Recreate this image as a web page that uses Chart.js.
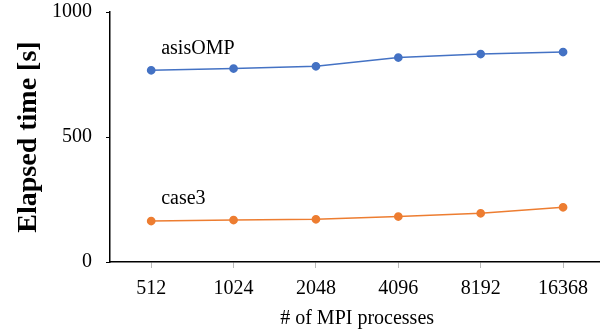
<!DOCTYPE html>
<html>
<head>
<meta charset="utf-8">
<script src="https://cdn.jsdelivr.net/npm/chart.js@4/dist/chart.umd.min.js"></script>
<style>
  html, body { margin: 0; padding: 0; background: #fff; overflow: hidden; }
  #wrap { position: relative; width: 610px; height: 331px; }
</style>
</head>
<body>
<div id="wrap"><canvas id="chart"></canvas></div>
<script>
// Data
const processes = ["512", "1024", "2048", "4096", "8192", "16368"];
const asisOMP = [767, 774, 783, 818, 832, 840];
const case3 = [164, 168, 171, 182, 195, 219];
const yTicks = [0, 500, 1000];

const SERIF = "'Liberation Serif', 'Times New Roman', serif";

// Series names written next to the first point, like in the original figure
const seriesLabels = {
  id: "seriesLabels",
  afterDatasetsDraw(chart) {
    const { ctx } = chart;
    ctx.save();
    ctx.font = "20px " + SERIF;
    ctx.fillStyle = "#000";
    ctx.textBaseline = "middle";
    chart.data.datasets.forEach((ds, i) => {
      const pt = chart.getDatasetMeta(i).data[0];
      ctx.fillText(ds.label, pt.x + 10, pt.y - 22);
    });
    ctx.restore();
  }
};

new Chart(document.getElementById("chart"), {
  type: "line",
  data: {
    labels: processes,
    datasets: [
      {
        label: "asisOMP",
        data: asisOMP,
        borderColor: "#4472C4",
        backgroundColor: "#4472C4",
        borderWidth: 1.75,
        pointRadius: 3.5,
        tension: 0
      },
      {
        label: "case3",
        data: case3,
        borderColor: "#ED7D31",
        backgroundColor: "#ED7D31",
        borderWidth: 1.75,
        pointRadius: 3.5,
        tension: 0
      }
    ]
  },
  options: {
    responsive: true,
    maintainAspectRatio: false,
    animation: false,
    layout: { padding: { top: 12, right: 2, left: 12, bottom: 0 } },
    plugins: {
      legend: { display: false },
      tooltip: { enabled: false }
    },
    scales: {
      x: {
        offset: true,
        grid: {
          display: true,
          drawOnChartArea: false,
          drawTicks: true,
          tickLength: 6,
          color: "#bbb",
          offset: false
        },
        border: { display: true, color: "#000", width: 1.5 },
        ticks: {
          color: "#000",
          font: { family: SERIF, size: 20 },
          padding: 9,
          maxRotation: 0
        },
        title: {
          display: true,
          text: "# of MPI processes",
          color: "#000",
          font: { family: SERIF, size: 20 },
          padding: { top: 0, bottom: 0 }
        },
        afterFit(scale) { scale.height = 69; }
      },
      y: {
        min: 0,
        max: 1000,
        afterBuildTicks(scale) {
          scale.ticks = yTicks.map(v => ({ value: v }));
        },
        grid: {
          display: true,
          drawOnChartArea: false,
          drawTicks: true,
          tickLength: 4,
          color: "#000"
        },
        border: { display: true, color: "#000", width: 1.5 },
        ticks: {
          color: "#000",
          font: { family: SERIF, size: 20 },
          padding: 14,
          callback: v => String(v)
        },
        title: {
          display: true,
          text: "Elapsed time [s]",
          color: "#000",
          font: { family: SERIF, size: 28, weight: "bold" },
          padding: { top: 0, bottom: 0 }
        },
        afterFit(scale) {
          scale.width = 98;
          scale.paddingTop = 0;
          scale.paddingBottom = 0;
        }
      }
    }
  },
  plugins: [seriesLabels]
});
</script>
</body>
</html>
